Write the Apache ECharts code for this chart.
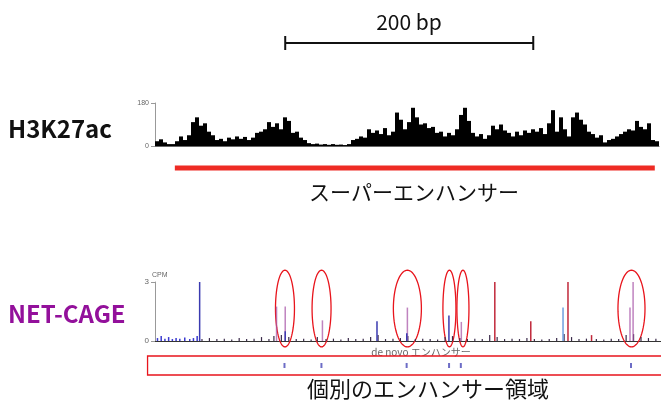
<!DOCTYPE html>
<html><head><meta charset="utf-8">
<script src="https://cdn.jsdelivr.net/npm/echarts@6/dist/echarts.min.js"></script>
<style>html,body{margin:0;padding:0;background:#fff}#c{width:661px;height:403px}</style>
</head><body><div id="c"></div>
<script>
// ---- data ----
const trackMaxBp = 408;
const scaleBar = [105, 305];           // 200 bp
const scaleLabel = '200 bp';
const h3k27acMax = 180;
const h3k27ac = [20,28,15,8,8,20,40,25,45,100,120,85,95,60,45,25,30,20,35,28,
  40,30,38,25,35,55,60,70,100,80,95,70,120,105,55,60,35,25,12,8,
  10,6,8,5,8,5,6,4,8,25,30,40,35,70,55,65,50,75,45,60,
  140,110,70,100,160,120,90,95,75,80,55,60,40,55,45,70,130,160,105,55,
  40,50,30,45,85,70,90,65,55,40,60,45,65,55,70,60,75,50,95,150,
  60,120,70,40,120,140,110,90,60,50,35,45,15,25,30,40,50,60,70,65,
  105,80,70,95,25,20];
const superEnhancer = [16, 403];
const cageMax = 3;
const cageRed = [[274,3.0],[333,3.0],[303,1.0],[352,0.3]];
const cageBlue = [[36,3.0],[179,1.0],[237,1.3],[105,0.5],[203,0.4]];
const cageLightBlue = [[329,1.7]];
const cagePurple = [[98,1.75],[105,1.75],[135,1.05],[203.5,1.7],[247,0.97],[385.5,3.0],[383,1.7]];
const cageNoiseBlue = [[2,0.15],[5,0.25],[8,0.12],[11,0.2],[14,0.1],[17,0.15],[20,0.12],[24,0.18],[28,0.1],[31,0.15],[34,0.25]];
const cageNoise = [[38,0.1],[44,0.15],[50,0.1],[56,0.12],[62,0.08],[68,0.15],[74,0.1],[80,0.12],[86,0.2],[92,0.1],[96,0.25],[102,0.3],[108,0.2],[114,0.1],[120,0.12],[126,0.08],[131,0.2],[138,0.1],[144,0.12],[150,0.08],[156,0.15],[162,0.1],[168,0.12],[174,0.2],[180,0.3],[186,0.1],[192,0.12],[198,0.15],[204,0.25],[210,0.1],[216,0.12],[222,0.1],[228,0.08],[234,0.2],[240,0.25],[246,0.15],[252,0.1],[258,0.12],[264,0.1],[270,0.3],[276,0.2],[282,0.1],[288,0.12],[294,0.1],[300,0.15],[306,0.1],[312,0.08],[318,0.1],[324,0.15],[330,0.35],[336,0.2],[342,0.1],[348,0.12],[356,0.1],[362,0.08],[368,0.12],[374,0.1],[380,0.3],[386,0.35],[392,0.2],[398,0.15],[404,0.12]];
const ellipseCenters = [104.8, 134.3, 203.5, 237.4, 248.3, 384.2];
const ellipseWidths  = [15.3, 15.3, 22.6, 10.5, 9.7, 21.8];
const enhancerTicks = [104.4, 134.2, 202.9, 237.1, 246.6, 383.8];

// ---- chart ----
const chart = echarts.init(document.getElementById('c'), null, {renderer:'canvas'});
const FONT = '"Noto Sans CJK JP", "Noto Sans", sans-serif';
const tickFont = {fontSize:7, color:'#666', fontFamily:'Liberation Sans, Arial, sans-serif'};
const hiddenX = (gi) => ({type:'value', gridIndex:gi, min:0, max:trackMaxBp, show:false});
const hiddenY = (gi) => ({type:'value', gridIndex:gi, min:0, max:1, show:false});

function ellipseItem(params, api){
  const c = api.value(0), w = api.value(1);
  const ctr = api.coord([c, 1.65]);
  const rx = api.size([w, 0])[0] / 2;
  const ry = api.size([0, 3.9])[1] / 2;
  const pts = [];
  for (let k = 0; k < 72; k++){
    const t = k / 72 * Math.PI * 2;
    pts.push([ctr[0] + rx*Math.cos(t), ctr[1] + ry*Math.sin(t)]);
  }
  return {type:'polygon', shape:{points:pts}, style:{fill:'none', stroke:'#e8141c', lineWidth:1.3}};
}
function rectItem(params, api){
  const a = api.coord([api.value(0), 1]);
  const b = api.coord([api.value(1), 0]);
  return {type:'rect', shape:{x:a[0], y:a[1], width:b[0]-a[0], height:b[1]-a[1]},
    style:{fill:'none', stroke:'#e8141c', lineWidth:1.3}};
}

const option = {
  animation:false,
  backgroundColor:'#fff',
  grid:[
    {left:155, top:30, width:506, height:26},
    {left:155, top:103, width:504, height:43},
    {left:155, top:160, width:506, height:16},
    {left:155, top:282, width:506, height:59},
    {left:155, top:356, width:506, height:19}
  ],
  xAxis:[
    hiddenX(0),
    {type:'category', gridIndex:1, data:h3k27ac.map((v,i)=>i), boundaryGap:true,
      axisLine:{show:true, lineStyle:{color:'#666', width:1}}, axisTick:{show:false}, axisLabel:{show:false}},
    hiddenX(2),
    {type:'value', gridIndex:3, min:0, max:trackMaxBp, splitLine:{show:false},
      axisLine:{show:true, onZero:false, lineStyle:{color:'#333', width:1}}, axisTick:{show:false}, axisLabel:{show:false}},
    hiddenX(4)
  ],
  yAxis:[
    hiddenY(0),
    {type:'value', gridIndex:1, min:0, max:h3k27acMax, interval:h3k27acMax, splitLine:{show:false},
      axisLine:{show:true, lineStyle:{color:'#999'}}, axisTick:{show:true, length:4, lineStyle:{color:'#999'}},
      axisLabel:Object.assign({margin:6}, tickFont)},
    hiddenY(2),
    {type:'value', gridIndex:3, min:0, max:cageMax, interval:cageMax, splitLine:{show:false},
      name:'CPM', nameLocation:'end', nameGap:3,
      nameTextStyle:Object.assign({align:'left', padding:[0,0,0,-3]}, tickFont),
      axisLine:{show:true, lineStyle:{color:'#999'}}, axisTick:{show:true, length:4, lineStyle:{color:'#999'}},
      axisLabel:Object.assign({margin:6}, tickFont, {fontSize:8})},
    hiddenY(4)
  ],
  series:[
    {type:'line', xAxisIndex:0, yAxisIndex:0, data:scaleBar.map(x=>[x,0.5]),
      lineStyle:{color:'#111', width:2}, symbol:'rect', symbolSize:[2,14], itemStyle:{color:'#111'}},
    {type:'bar', xAxisIndex:1, yAxisIndex:1, data:h3k27ac, barCategoryGap:'0%', itemStyle:{color:'#000'}},
    {type:'line', xAxisIndex:2, yAxisIndex:2, data:superEnhancer.map(x=>[x,0.5]),
      lineStyle:{color:'#ee2b24', width:5, cap:'butt'}, symbol:'none'},
    {type:'bar', xAxisIndex:3, yAxisIndex:3, data:cageNoiseBlue, barWidth:1.5, itemStyle:{color:'#3a3ad0'}},
    {type:'bar', xAxisIndex:3, yAxisIndex:3, data:cageNoise, barWidth:1.2, barGap:'-100%', itemStyle:{color:'#3a2a4a'}},
    {type:'bar', xAxisIndex:3, yAxisIndex:3, data:cagePurple, barWidth:1.5, barGap:'-100%', itemStyle:{color:'rgba(170,90,170,0.75)'}},
    {type:'bar', xAxisIndex:3, yAxisIndex:3, data:cageRed, barWidth:1.5, barGap:'-100%', itemStyle:{color:'#c0283a'}},
    {type:'bar', xAxisIndex:3, yAxisIndex:3, data:cageBlue, barWidth:1.5, barGap:'-100%', itemStyle:{color:'#3a3ab0'}},
    {type:'bar', xAxisIndex:3, yAxisIndex:3, data:cageLightBlue, barWidth:1.5, barGap:'-100%', itemStyle:{color:'#6f9fe0'}},
    {type:'custom', xAxisIndex:3, yAxisIndex:3, clip:false, renderItem:ellipseItem,
      data:ellipseCenters.map((c,i)=>[c, ellipseWidths[i]])},
    {type:'custom', xAxisIndex:4, yAxisIndex:4, clip:false, renderItem:rectItem, data:[[-6, 430]]},
    {type:'scatter', xAxisIndex:4, yAxisIndex:4, data:enhancerTicks.map(x=>[x,0.5]),
      symbol:'rect', symbolSize:[2,5], itemStyle:{color:'#4848b8'}}
  ],
  graphic:[
    {type:'text', x:409, y:22, style:{text:scaleLabel, font:'21px '+FONT, fill:'#111', align:'center', verticalAlign:'middle'}},
    {type:'text', x:8, y:129, style:{text:'H3K27ac', font:'bold 24px '+FONT, fill:'#111', verticalAlign:'middle'}},
    {type:'text', x:414, y:192, style:{text:'スーパーエンハンサー', font:'21px '+FONT, fill:'#111', align:'center', verticalAlign:'middle'}},
    {type:'text', x:8, y:314, style:{text:'NET-CAGE', font:'bold 24px '+FONT, fill:'#93109b', verticalAlign:'middle'}},
    {type:'text', x:421, y:352, style:{text:'de novo エンハンサー', font:'10px '+FONT, fill:'#666', align:'center', verticalAlign:'middle'}},
    {type:'text', x:428, y:389, style:{text:'個別のエンハンサー領域', font:'22px '+FONT, fill:'#111', align:'center', verticalAlign:'middle'}}
  ]
};
chart.setOption(option);
</script></body></html>
